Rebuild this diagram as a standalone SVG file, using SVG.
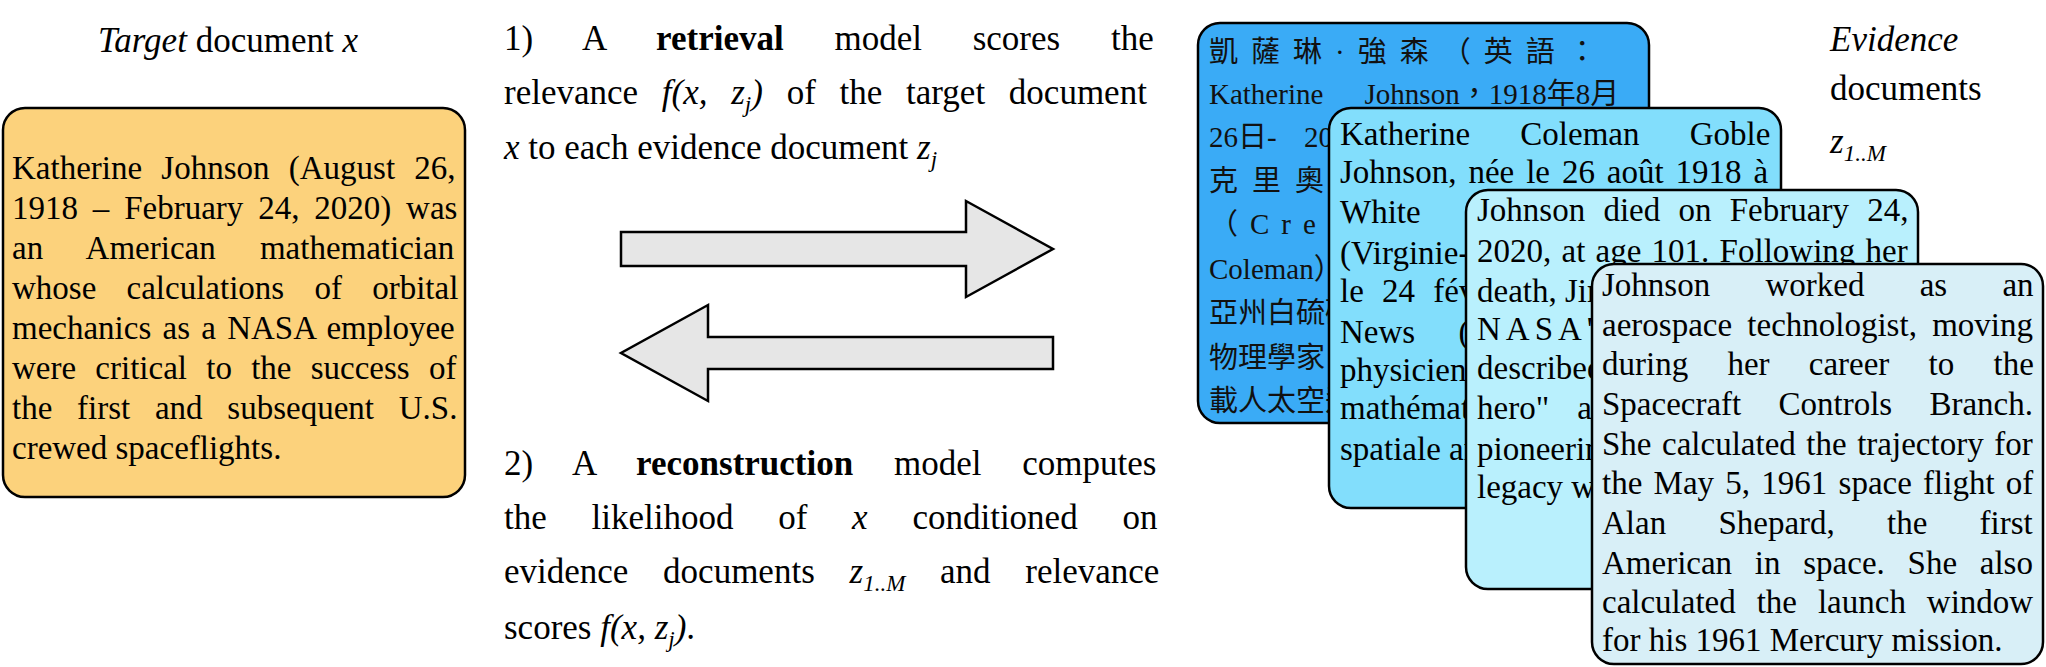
<svg xmlns="http://www.w3.org/2000/svg" width="2046" height="667" viewBox="0 0 2046 667">
<style>
.s{font-family:"Liberation Serif","Times New Roman",serif;fill:#000}
.m{font-size:35px}
.b{font-size:33px}
.c{font-family:"Liberation Serif","Noto Sans CJK TC",serif;font-size:29px;fill:#111}
.box{stroke:#000;stroke-width:2.5}
.arr{fill:#e6e6e6;stroke:#000;stroke-width:2.5}
</style>
<rect width="2046" height="667" fill="#fff"/>
<g id="target-label"><text class="s m" x="228" y="52" text-anchor="middle"><tspan font-style="italic">Target</tspan> document <tspan font-style="italic">x</tspan></text></g>
<g id="target-doc">
<rect class="box" x="3" y="108" width="462" height="389" rx="22" fill="#fcd27c"/>
<g class="s b">
<text x="12" y="179" word-spacing="11">Katherine Johnson (August 26,</text>
<text x="12" y="219" word-spacing="6.6">1918 – February 24, 2020) was</text>
<text x="12" y="259" word-spacing="36">an American mathematician</text>
<text x="12" y="299" word-spacing="22">whose calculations of orbital</text>
<text x="12" y="339" word-spacing="3">mechanics as a NASA employee</text>
<text x="12" y="379" word-spacing="11">were critical to the success of</text>
<text x="12" y="419" word-spacing="16.5">the first and subsequent U.S.</text>
<text x="12" y="459">crewed spaceflights.</text>
</g>
</g>
<g id="step1" class="s m">
<text x="504" y="50" word-spacing="42">1) A <tspan font-weight="bold">retrieval</tspan> model scores the</text>
<text x="504" y="104" word-spacing="15">relevance <tspan font-style="italic">f(x, z</tspan><tspan font-style="italic" font-size="23" dy="8">j</tspan><tspan font-style="italic" dy="-8">)</tspan> of the target document</text>
<text x="504" y="159"><tspan font-style="italic">x</tspan> to each evidence document <tspan font-style="italic">z</tspan><tspan font-style="italic" font-size="23" dy="8">j</tspan></text>
</g>
<g id="step2" class="s m">
<text x="504" y="475" word-spacing="32">2) A <tspan font-weight="bold">reconstruction</tspan> model computes</text>
<text x="504" y="529" word-spacing="36">the likelihood of <tspan font-style="italic">x</tspan> conditioned on</text>
<text x="504" y="583" word-spacing="26">evidence documents <tspan font-style="italic">z</tspan><tspan font-style="italic" font-size="23" dy="8">1..M</tspan><tspan dy="-8"> and relevance</tspan></text>
<text x="504" y="639">scores <tspan font-style="italic">f(x, z</tspan><tspan font-style="italic" font-size="23" dy="8">j</tspan><tspan font-style="italic" dy="-8">)</tspan>.</text>
</g>
<g id="connectors">
<polygon class="arr" points="621,232 966,232 966,201 1053,249 966,297 966,266 621,266"/>
<polygon class="arr" points="1053,337 708,337 708,305 621,353 708,401 708,369 1053,369"/>
</g>
<g id="evidence-label" class="s m">
<text x="1830" y="51" font-style="italic">Evidence</text>
<text x="1830" y="100">documents</text>
<text x="1830" y="153" font-style="italic">z<tspan font-size="23" dy="8">1..M</tspan></text>
</g>
<g id="doc-zh">
<rect class="box" x="1198" y="23" width="451" height="400" rx="22" fill="#3aabf6"/>
<g class="c">
<text x="1209" y="62" letter-spacing="13">凱薩琳·強森（英語：</text>
<text x="1209" y="104" word-spacing="34">Katherine Johnson，1918年8月</text>
<text x="1209" y="147" word-spacing="20">26日- 2020年2月24日），</text>
<text x="1209" y="191" letter-spacing="14">克里奧拉·凱薩琳</text>
<text x="1209" y="234" letter-spacing="12">（Creola Katherine</text>
<text x="1209" y="279">Coleman），美國非裔</text>
<text x="1209" y="323">亞州白硫磺泉市，</text>
<text x="1209" y="368">物理學家、數學家</text>
<text x="1209" y="411">載人太空飛行</text>
</g>
</g>
<g id="doc-fr">
<rect class="box" x="1329" y="108" width="452" height="400" rx="22" fill="#82defc"/>
<g class="s b">
<text x="1340" y="145" word-spacing="42">Katherine Coleman Goble</text>
<text x="1340" y="183" word-spacing="3.7">Johnson, née le 26 août 1918 à</text>
<text x="1340" y="223" word-spacing="72">White Sulphur Springs</text>
<text x="1340" y="264">(Virginie-Occidentale)</text>
<text x="1340" y="302" word-spacing="10">le 24 février 2020 à Newport</text>
<text x="1340" y="343" word-spacing="35">News (Virginie), est une</text>
<text x="1340" y="381">physicienne,</text>
<text x="1340" y="419">mathématicienne</text>
<text x="1340" y="460">spatiale américaine.</text>
</g>
</g>
<g id="doc-en1">
<rect class="box" x="1466" y="190" width="452" height="399" rx="22" fill="#b9f0fd"/>
<g class="s b">
<text x="1477" y="221" word-spacing="10">Johnson died on February 24,</text>
<text x="1477" y="262" word-spacing="2">2020, at age 101. Following her</text>
<text x="1477" y="302">death, Jim Bridenstine,</text>
<text x="1477" y="340" letter-spacing="5">NASA's</text>
<text x="1477" y="379">described her as</text>
<text x="1477" y="419" word-spacing="20">hero" and</text>
<text x="1477" y="460">pioneering</text>
<text x="1477" y="498">legacy will</text>
</g>
</g>
<g id="doc-en2">
<rect class="box" x="1592" y="264" width="451" height="400" rx="22" fill="#d8eff7"/>
<g class="s b">
<text x="1602" y="296" word-spacing="47">Johnson worked as an</text>
<text x="1602" y="336" word-spacing="7">aerospace technologist, moving</text>
<text x="1602" y="375" word-spacing="31">during her career to the</text>
<text x="1602" y="415" word-spacing="29">Spacecraft Controls Branch.</text>
<text x="1602" y="455" word-spacing="2.3">She calculated the trajectory for</text>
<text x="1602" y="494" word-spacing="3">the May 5, 1961 space flight of</text>
<text x="1602" y="534" word-spacing="44">Alan Shepard, the first</text>
<text x="1602" y="574" word-spacing="14.5">American in space. She also</text>
<text x="1602" y="613" word-spacing="12.7">calculated the launch window</text>
<text x="1602" y="651">for his 1961 Mercury mission.</text>
</g>
</g>
</svg>
